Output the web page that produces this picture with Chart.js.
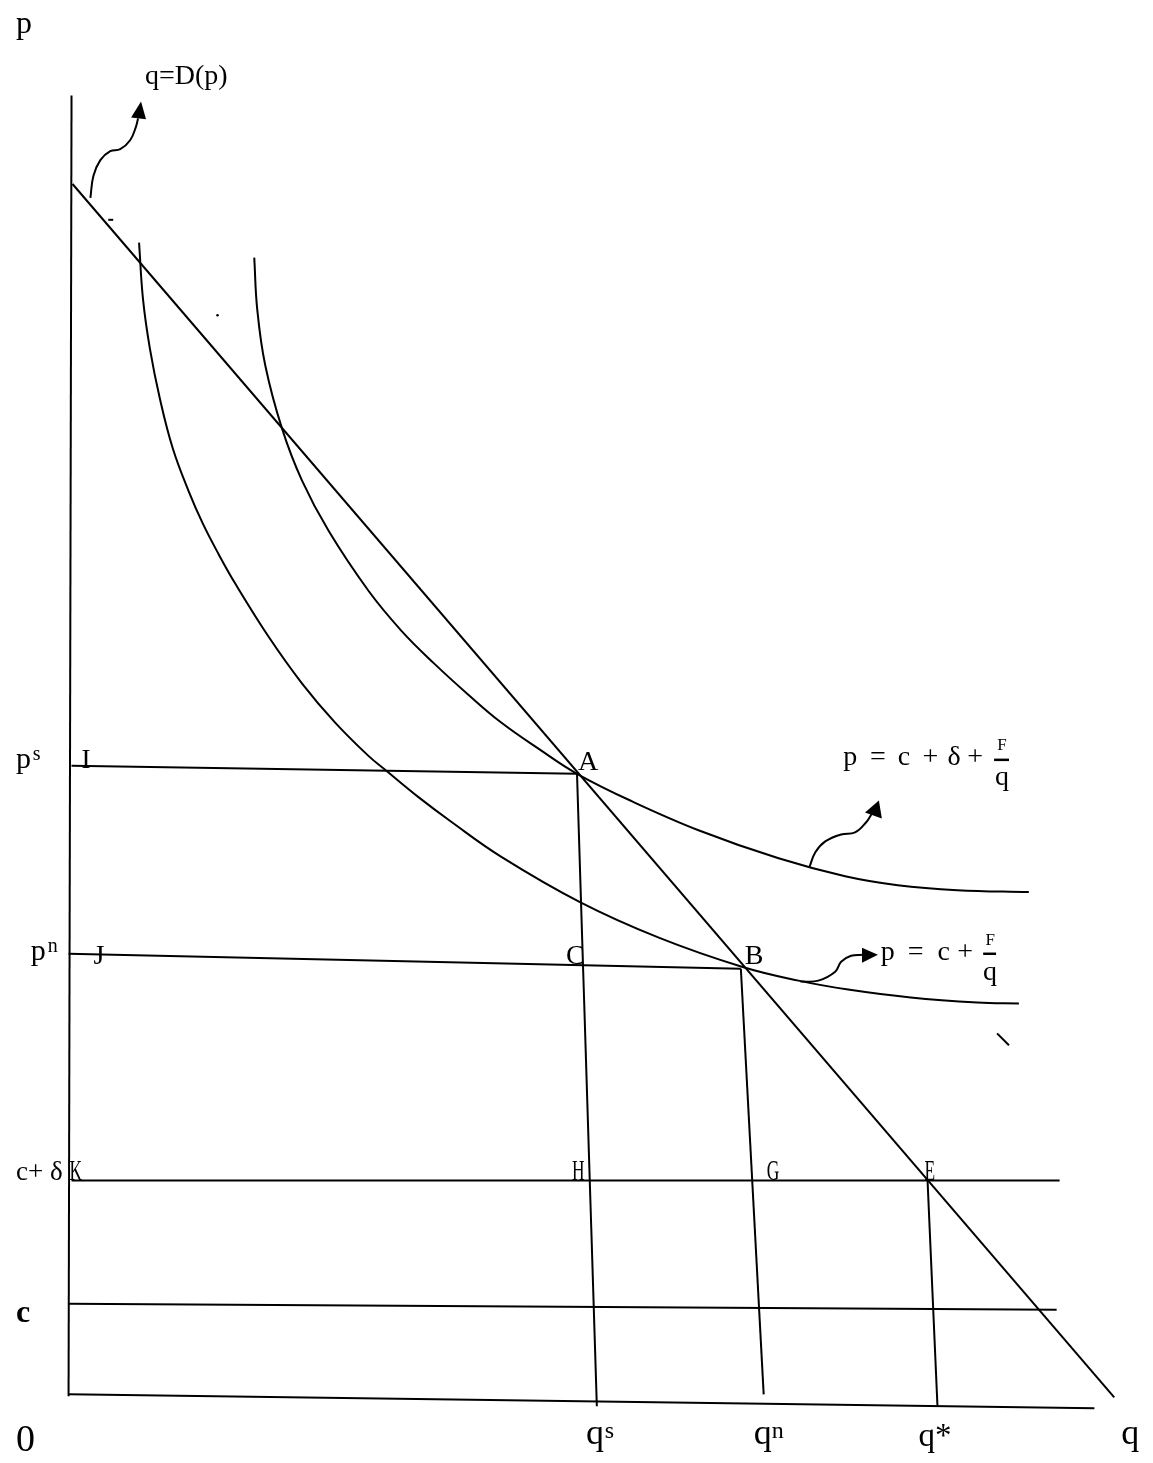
<!DOCTYPE html>
<html>
<head>
<meta charset="utf-8">
<script src="https://cdn.jsdelivr.net/npm/chart.js@4.4.1/dist/chart.umd.min.js"></script>
<style>
  html, body { margin: 0; padding: 0; background: #fff; }
  #chart { display: block; }
</style>
</head>
<body>
<canvas id="chart" width="1153" height="1463"></canvas>
<script>
// quantity q / price p, origin where the axes meet
var yAxisLine = [[3, 1306], [0, -2]];
var xAxisLine = [[0, 0], [1033, -14]];
var demand = [[4, 1217], [1053, -3]];

var psLine = [[3, 632], [512, 624]];
var qsLine = [[512, 624], [532, -12]];
var pnLine = [[0, 443], [677, 428]];
var qnLine = [[677, 428], [700, 0]];
var cdLine = [[3, 215], [998, 215]];
var qStarLine = [[865, 215], [875, -12]];
var cLine = [[0, 91], [995, 85]];

// p = c + F/q
var avgCost = [[71, 1158], [75, 1101], [82, 1051], [92, 1001], [105, 951], [121, 908],
  [135, 876], [151, 845], [168, 815], [202, 761], [235, 715], [268, 676], [302, 642],
  [320, 627], [353, 600], [385, 576], [435, 541], [515, 495], [595, 459], [678, 430],
  [735, 416], [785, 407], [848, 399], [915, 394], [957, 393]];

// p = c + delta + F/q
var avgCostTax = [[187, 1143], [190, 1091], [198, 1035], [215, 971], [235, 919], [262, 868],
  [302, 808], [335, 768], [368, 735], [402, 704], [435, 676], [475, 648], [512, 624],
  [568, 596], [635, 567], [715, 539], [782, 521], [835, 512], [895, 507], [967, 505]];

// pointer arrows
var arrowDemand = [[22, 1203], [25, 1225], [32, 1241], [42, 1250], [52, 1252], [62, 1261], [68, 1275], [70, 1283]];
var headDemand = [[73, 1300], [63, 1284], [78, 1282]];
var arrowTax = [[746, 530], [752, 545], [762, 556], [778, 563], [792, 565], [803, 575], [809, 584]];
var headTax = [[816, 597], [802, 585], [819, 579]];
var arrowCost = [[737, 415], [755, 416], [772, 425], [778, 435], [788, 441], [800, 442]];
var headCost = [[815, 442], [799, 449], [799, 434]];

// stray marks
var dash = [[40, 1181], [45, 1181]];
var tick = [[935, 363], [947, 351]];
var dot = [[150, 1085]];

var serif = "'Liberation Serif', 'DejaVu Serif', serif";

// text, q, p, font, align, horizontal squeeze
var labels = [
  ['p', -53, 1369, '32px ' + serif],
  ['q=D(p)', 77, 1318, '28px ' + serif],
  ['p', -53, 630, '30px ' + serif], ['s', -36, 638, '20px ' + serif],
  ['I', 13, 630, '27px ' + serif],
  ['A', 513, 628, '28px ' + serif],
  ['p', -38, 437, '30px ' + serif], ['n', -21, 445, '20px ' + serif],
  ['J', 25, 433, '28px ' + serif],
  ['C', 501, 433, '28px ' + serif],
  ['B', 681, 433, '28px ' + serif],
  ['c+ δ', -53, 216, '27px ' + serif],
  ['K', 1, 216, '29px ' + serif, 'left', 0.6],
  ['H', 507, 216, '29px ' + serif, 'left', 0.6],
  ['G', 703, 216, '29px ' + serif, 'left', 0.6],
  ['E', 862, 216, '29px ' + serif, 'left', 0.6],
  ['c', -53, 73, 'bold 32px ' + serif],
  ['0', -53, -57, '38px ' + serif],
  ['q', 521, -50, '36px ' + serif], ['s', 540, -44, '24px ' + serif],
  ['q', 690, -50, '36px ' + serif], ['n', 708, -44, '24px ' + serif],
  ['q*', 856, -52, '33px ' + serif],
  ['q', 1060, -50, '36px ' + serif],
  // p = c + delta + F/q
  ['p', 780, 633, '28px ' + serif], ['=', 807, 633, '28px ' + serif],
  ['c', 835, 633, '28px ' + serif], ['+', 860, 633, '28px ' + serif],
  ['δ', 885, 633, '28px ' + serif], ['+', 905, 633, '28px ' + serif],
  ['F', 940, 648, '17px ' + serif, 'center'], ['q', 940, 613, '28px ' + serif, 'center'],
  // p = c + F/q
  ['p', 818, 437, '28px ' + serif], ['=', 845, 437, '28px ' + serif],
  ['c', 875, 437, '28px ' + serif], ['+', 895, 437, '28px ' + serif],
  ['F', 928, 452, '17px ' + serif, 'center'], ['q', 928, 417, '28px ' + serif, 'center']
];
var fractionBars = [[[932, 638], [947, 638]], [[921, 443], [934, 443]]];
var heads = [headDemand, headTax, headCost];

function pts(arr) {
  return arr.map(function (d) { return { x: d[0], y: d[1] }; });
}

function line(arr, opts) {
  return Object.assign({
    data: pts(arr),
    showLine: true,
    borderColor: '#000',
    borderWidth: 2,
    pointRadius: 0,
    tension: 0,
    fill: false
  }, opts || {});
}

var textPlugin = {
  id: 'diagramText',
  afterDatasetsDraw: function (chart) {
    var ctx = chart.ctx;
    var sx = chart.scales.x, sy = chart.scales.y;
    ctx.save();
    ctx.fillStyle = '#000';
    ctx.strokeStyle = '#000';

    heads.forEach(function (h) {
      ctx.beginPath();
      h.forEach(function (d, i) {
        var px = sx.getPixelForValue(d[0]), py = sy.getPixelForValue(d[1]);
        if (i === 0) ctx.moveTo(px, py); else ctx.lineTo(px, py);
      });
      ctx.closePath();
      ctx.fill();
    });

    ctx.lineWidth = 2.5;
    fractionBars.forEach(function (b) {
      ctx.beginPath();
      ctx.moveTo(sx.getPixelForValue(b[0][0]), sy.getPixelForValue(b[0][1]));
      ctx.lineTo(sx.getPixelForValue(b[1][0]), sy.getPixelForValue(b[1][1]));
      ctx.stroke();
    });

    ctx.textBaseline = 'alphabetic';
    labels.forEach(function (l) {
      var px = sx.getPixelForValue(l[1]), py = sy.getPixelForValue(l[2]);
      var squeeze = l[5] || 1;
      ctx.save();
      ctx.font = l[3];
      ctx.textAlign = l[4] || 'left';
      ctx.translate(px, py);
      ctx.scale(squeeze, 1);
      ctx.fillText(l[0], 0, 0);
      ctx.restore();
    });
    ctx.restore();
  }
};

new Chart(document.getElementById('chart'), {
  type: 'scatter',
  data: {
    datasets: [
      line(yAxisLine), line(xAxisLine), line(demand),
      line(psLine), line(qsLine), line(pnLine), line(qnLine),
      line(cdLine), line(qStarLine), line(cLine),
      line(avgCost, { tension: 0.4 }),
      line(avgCostTax, { tension: 0.4 }),
      line(arrowDemand, { tension: 0.4 }), line(arrowTax, { tension: 0.4 }), line(arrowCost, { tension: 0.4 }),
      line(dash), line(tick),
      { data: pts(dot), pointRadius: 1.3, pointBackgroundColor: '#000', pointBorderWidth: 0 }
    ]
  },
  options: {
    responsive: false,
    animation: false,
    devicePixelRatio: 1,
    layout: { padding: 0 },
    plugins: { legend: { display: false }, tooltip: { enabled: false } },
    events: [],
    scales: {
      x: { type: 'linear', min: -65, max: 1088, display: false },
      y: { type: 'linear', min: -65, max: 1398, display: false }
    }
  },
  plugins: [textPlugin]
});
</script>
</body>
</html>
